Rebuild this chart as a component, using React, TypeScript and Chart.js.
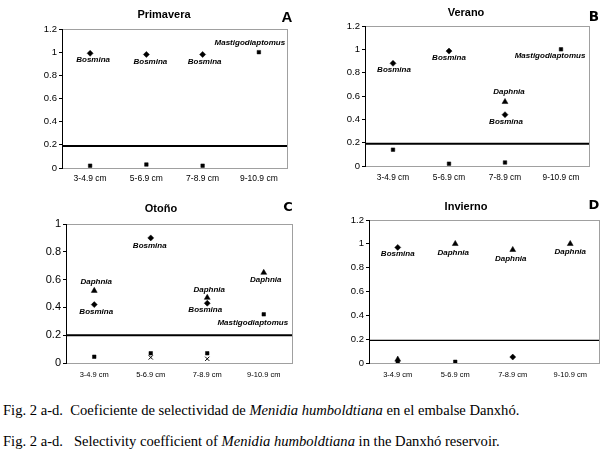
import React, { useEffect, useRef } from "react";
import { Chart, registerables } from "chart.js";

Chart.register(...registerables);
Chart.defaults.font.family = "'Liberation Sans', Arial, sans-serif";
Chart.defaults.color = "#000";

// ---------- data ----------
const categories = ["3-4.9 cm", "5-6.9 cm", "7-8.9 cm", "9-10.9 cm"];
const seriesNames = ["Bosmina", "Daphnia", "Mastigodiaptomus", "Otro"];

// A — Primavera
const primaveraBosmina = [0.99, 0.98, 0.98, null];
const primaveraDaphnia = [null, null, null, null];
const primaveraMastigodiaptomus = [0.02, 0.03, 0.02, 1.0];
const primaveraOtro = [null, null, null, null];
const primaveraThreshold = 0.19;
const primaveraYMax = 1.2;

// B — Verano
const veranoBosmina = [0.88, 0.985, 0.44, null];
const veranoDaphnia = [null, null, 0.55, null];
const veranoMastigodiaptomus = [0.14, 0.02, 0.03, 1.0];
const veranoOtro = [null, null, null, null];
const veranoThreshold = 0.19;
const veranoYMax = 1.2;

// C — Otoño
const otonoBosmina = [0.42, 0.9, 0.43, null];
const otonoDaphnia = [0.52, null, 0.47, 0.65];
const otonoMastigodiaptomus = [0.045, 0.07, 0.07, 0.35];
const otonoOtro = [null, 0.04, 0.03, null];
const otonoThreshold = 0.2;
const otonoYMax = 1;

// D — Invierno
const inviernoBosmina = [0.97, null, 0.05, null];
const inviernoDaphnia = [0.03, 1.0, 0.95, 1.0];
const inviernoMastigodiaptomus = [0.01, 0.01, null, null];
const inviernoOtro = [null, null, null, null];
const inviernoThreshold = 0.19;
const inviernoYMax = 1.2;

// ---------- styling ----------
type Tag = [number, number] | null;
type Panel = {
  title: string;
  letter: string;
  series: (number | null)[][];
  threshold: number;
  yMax: number;
  tags: Tag[][]; // label offsets per series / point (style only)
  geom: { x: number; y: number; w: number; h: number; l: number; t: number; r: number; b: number };
  yFont: number;
  xFont: number;
  xPad: number;
  lineWidth: number;
  titlePos: [number, number];
  letterPos: [number, number];
  letterFont: string;
};

const N: Tag[] = [null, null, null, null];

const panels: Panel[] = [
  {
    title: "Primavera",
    letter: "A",
    series: [primaveraBosmina, primaveraDaphnia, primaveraMastigodiaptomus, primaveraOtro],
    threshold: primaveraThreshold,
    yMax: primaveraYMax,
    tags: [[[3, 6], [4, 7], [2, 7], null], N, [null, null, null, [-9, -9]], N],
    geom: { x: 0, y: 0, w: 306, h: 195, l: 62, t: 29, r: 287, b: 168 },
    yFont: 9.5,
    xFont: 8.5,
    xPad: 6,
    lineWidth: 2,
    titlePos: [164, 14],
    letterPos: [287, 17],
    letterFont: "bold 15px 'Liberation Sans', Arial, sans-serif",
  },
  {
    title: "Verano",
    letter: "B",
    series: [veranoBosmina, veranoDaphnia, veranoMastigodiaptomus, veranoOtro],
    threshold: veranoThreshold,
    yMax: veranoYMax,
    tags: [[[1, 6], [0, 7], [1, 7], null], [null, null, [4, -10], null], [null, null, null, [-11, 6]], N],
    geom: { x: 306, y: 0, w: 306, h: 195, l: 59, t: 26, r: 283, b: 166 },
    yFont: 9.5,
    xFont: 8.3,
    xPad: 7,
    lineWidth: 2,
    titlePos: [466, 12],
    letterPos: [594, 16],
    letterFont: "bold 13.5px 'DejaVu Sans', sans-serif",
  },
  {
    title: "Otoño",
    letter: "C",
    series: [otonoBosmina, otonoDaphnia, otonoMastigodiaptomus, otonoOtro],
    threshold: otonoThreshold,
    yMax: otonoYMax,
    tags: [[[2, 7], [-1, 8], [-2, 7], null], [[2, -9], null, [2, -8], [2, 7]], [null, null, null, [-11, 8]], N],
    geom: { x: 0, y: 195, w: 306, h: 190, l: 66, t: 29, r: 292, b: 168 },
    yFont: 11,
    xFont: 7.5,
    xPad: 7.5,
    lineWidth: 2,
    titlePos: [161, 208],
    letterPos: [288, 207],
    letterFont: "bold 13px 'DejaVu Sans', sans-serif",
  },
  {
    title: "Invierno",
    letter: "D",
    series: [inviernoBosmina, inviernoDaphnia, inviernoMastigodiaptomus, inviernoOtro],
    threshold: inviernoThreshold,
    yMax: inviernoYMax,
    tags: [[[0, 6], null, null, null], [null, [-2, 9], [-2, 9], [0, 8]], N, N],
    geom: { x: 306, y: 195, w: 306, h: 190, l: 63, t: 25, r: 293, b: 168 },
    yFont: 9.5,
    xFont: 7.5,
    xPad: 7.5,
    lineWidth: 1.2,
    titlePos: [466, 206],
    letterPos: [594, 205],
    letterFont: "bold 13px 'DejaVu Sans', sans-serif",
  },
];

const markerStyles = [
  { pointStyle: "rectRot", radius: 3, borderWidth: 0.5 },
  { pointStyle: "triangle", radius: 3.4, borderWidth: 0.5 },
  { pointStyle: "rect", radius: 2.5, borderWidth: 0.5 },
  { pointStyle: "crossRot", radius: 3, borderWidth: 1 },
];

function PanelChart({ panel }: { panel: Panel }) {
  const ref = useRef<HTMLCanvasElement>(null);
  const g = panel.geom;
  useEffect(() => {
    const boxPlugin = {
      id: "box",
      beforeDraw(chart: any) {
        const { ctx, chartArea: a } = chart;
        ctx.save();
        ctx.strokeStyle = "#a0a0a0";
        ctx.lineWidth = 1;
        ctx.strokeRect(Math.round(a.left) + 0.5, Math.round(a.top) + 0.5, Math.round(a.right - a.left), Math.round(a.bottom - a.top));
        ctx.restore();
      },
    };
    const thresholdPlugin = {
      id: "threshold",
      beforeDatasetsDraw(chart: any) {
        const { ctx, chartArea: a } = chart;
        const y = chart.scales.y.getPixelForValue(panel.threshold);
        ctx.save();
        ctx.strokeStyle = "#000";
        ctx.lineWidth = panel.lineWidth;
        ctx.beginPath();
        ctx.moveTo(a.left, y);
        ctx.lineTo(a.right, y);
        ctx.stroke();
        ctx.restore();
      },
    };
    const labelPlugin = {
      id: "taxonLabels",
      afterDatasetsDraw(chart: any) {
        const { ctx } = chart;
        ctx.save();
        ctx.font = "italic bold 8px 'Liberation Sans', Arial, sans-serif";
        ctx.fillStyle = "#000";
        ctx.textAlign = "center";
        ctx.textBaseline = "middle";
        panel.series.forEach((vals, si) => {
          const meta = chart.getDatasetMeta(si);
          vals.forEach((v, i) => {
            const tag = panel.tags[si][i];
            if (v == null || !tag) return;
            const pt = meta.data[i];
            ctx.fillText(seriesNames[si], pt.x + tag[0], pt.y + tag[1]);
          });
        });
        ctx.restore();
      },
    };
    const chart = new Chart(ref.current as HTMLCanvasElement, {
      type: "line",
      data: {
        labels: categories,
        datasets: panel.series.map((vals, si) => ({
          label: seriesNames[si],
          data: vals,
          showLine: false,
          pointStyle: markerStyles[si].pointStyle as any,
          pointRadius: markerStyles[si].radius,
          pointBorderWidth: markerStyles[si].borderWidth,
          pointBackgroundColor: "#000",
          pointBorderColor: "#000",
          backgroundColor: "#000",
          borderColor: "#000",
        })),
      },
      options: {
        animation: false,
        responsive: false,
        devicePixelRatio: 1,
        layout: { padding: { left: 0, top: g.t, right: g.w - g.r, bottom: 0 } },
        plugins: { legend: { display: false }, tooltip: { enabled: false }, title: { display: false } },
        scales: {
          x: {
            type: "category",
            offset: true,
            grid: { display: false, drawTicks: false },
            border: { display: false },
            ticks: { padding: panel.xPad, font: { size: panel.xFont }, color: "#000", maxRotation: 0, autoSkip: false },
            afterFit: (s: any) => {
              s.height = g.h - g.b;
            },
          },
          y: {
            min: 0,
            max: panel.yMax,
            ticks: {
              stepSize: 0.2,
              padding: 2,
              font: { size: panel.yFont },
              color: "#000",
              callback: (v: any) => String(Number(Number(v).toFixed(1))),
            },
            grid: { drawOnChartArea: false, drawTicks: true, tickLength: 3, color: "#000" },
            border: { display: true, color: "#000", width: 1 },
            afterFit: (s: any) => {
              s.width = g.l;
            },
          },
        },
      },
      plugins: [boxPlugin, thresholdPlugin, labelPlugin],
    });
    return () => chart.destroy();
  }, []);
  return (
    <canvas
      ref={ref}
      width={g.w}
      height={g.h}
      style={{ position: "absolute", left: g.x, top: g.y, width: g.w, height: g.h }}
    />
  );
}

const captionFont = "14.6px 'Liberation Serif', 'Times New Roman', serif";

export default function App() {
  return (
    <div style={{ position: "absolute", left: 0, top: 0, width: 612, height: 453, background: "#fff", overflow: "hidden" }}>
      {panels.map((p) => (
        <React.Fragment key={p.letter}>
          <PanelChart panel={p} />
          <div
            style={{
              position: "absolute",
              left: p.titlePos[0],
              top: p.titlePos[1],
              transform: "translate(-50%, -50%)",
              font: "bold 11px 'Liberation Sans', Arial, sans-serif",
              whiteSpace: "nowrap",
              lineHeight: "13px",
            }}
          >
            {p.title}
          </div>
          <div
            style={{
              position: "absolute",
              left: p.letterPos[0],
              top: p.letterPos[1],
              transform: "translate(-50%, -50%)",
              font: p.letterFont,
              lineHeight: "16px",
            }}
          >
            {p.letter}
          </div>
        </React.Fragment>
      ))}
      <div
        style={{
          position: "absolute",
          left: 3,
          top: 401,
          font: captionFont,
          whiteSpace: "pre",
          lineHeight: "18px",
        }}
      >
        {"Fig. 2 a-d.  Coeficiente de selectividad de "}
        <i>Menidia humboldtiana</i>
        {" en el embalse Danxhó."}
      </div>
      <div
        style={{
          position: "absolute",
          left: 3,
          top: 432,
          font: captionFont,
          whiteSpace: "pre",
          lineHeight: "18px",
        }}
      >
        {"Fig. 2 a-d.   Selectivity coefficient of "}
        <i>Menidia humboldtiana</i>
        {" in the Danxhó reservoir."}
      </div>
    </div>
  );
}
